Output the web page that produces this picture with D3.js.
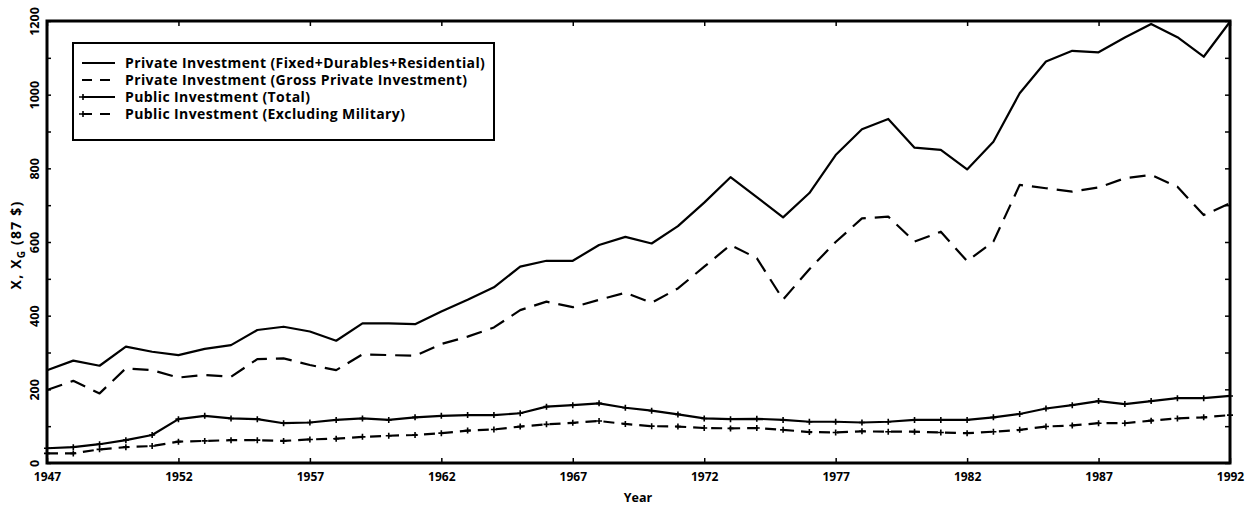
<!DOCTYPE html>
<html>
<head>
<meta charset="utf-8">
<script src="https://cdn.jsdelivr.net/npm/d3@7"></script>
<style>
  html, body { margin: 0; padding: 0; background: #fff; }
  svg text { font-family: "Open Sans", "DejaVu Sans", sans-serif; font-weight: 700; fill: #000; }
</style>
</head>
<body>
<svg id="chart" width="1250" height="509"></svg>
<script>
const years = d3.range(1947, 1993);
const privateFixed = [252,278,264,316,302,293,310,320,361,370,357,332,379,379,377,411,443,477,533,549,549,592,614,596,643,707,776,722,667,733,836,906,934,856,850,797,872,1004,1090,1119,1115,1155,1192,1156,1103,1198];
const privateGross = [198,223,189,257,252,232,239,234,282,284,266,252,295,293,291,323,343,368,415,438,423,443,462,435,474,533,592,556,444,526,600,664,669,601,628,548,601,755,746,737,748,773,782,750,673,705];
const publicTotal = [40,43,51,62,76,119,128,121,119,108,110,117,121,117,124,128,130,130,135,153,157,162,150,142,132,121,119,120,117,112,112,110,112,117,117,117,124,133,148,157,168,160,168,176,176,182];
const publicExMil = [26,26,37,43,46,58,60,62,62,60,64,66,71,74,76,81,88,91,99,105,109,114,106,100,99,95,94,95,90,84,83,86,85,85,83,81,85,90,99,102,108,108,115,121,124,130];
const seriesNames = [
  "Private Investment (Fixed+Durables+Residential)",
  "Private Investment (Gross Private Investment)",
  "Public Investment (Total)",
  "Public Investment (Excluding Military)"
];
const xTickValues = [1947,1952,1957,1962,1967,1972,1977,1982,1987,1992];
const yTickValues = d3.range(0, 1201, 100);
const yLabelValues = [0,200,400,600,800,1000,1200];

const svg = d3.select("#chart");
const L = 47, R = 1230, T = 21, B = 463;
const x = d3.scaleLinear().domain([1947, 1992]).range([L, R]);
const y = d3.scaleLinear().domain([0, 1200]).range([B, T]);

const styles = [
  {dash: null, marker: false},
  {dash: "16,9", marker: false},
  {dash: null, marker: true},
  {dash: "11,7", marker: true}
];
const seriesData = [privateFixed, privateGross, publicTotal, publicExMil];

const line = d3.line().x((d, i) => x(years[i])).y(d => y(d));

seriesData.forEach((vals, k) => {
  svg.append("path")
    .attr("d", line(vals))
    .attr("fill", "none")
    .attr("stroke", "#000")
    .attr("stroke-width", 2.2)
    .attr("stroke-linejoin", "round")
    .attr("stroke-dasharray", styles[k].dash);
  if (styles[k].marker) {
    svg.append("g").selectAll("path")
      .data(vals)
      .join("path")
      .attr("d", (d, i) => {
        const cx = x(years[i]), cy = y(d);
        return `M${cx-3},${cy}H${cx+3}M${cx},${cy-3}V${cy+3}`;
      })
      .attr("stroke", "#000")
      .attr("stroke-width", 1.6);
  }
});

// axes
const axB = d3.axisBottom(x).tickValues(xTickValues).tickSizeInner(-5).tickSizeOuter(0).tickPadding(9).tickFormat(d3.format("d"));
const gB = svg.append("g").attr("transform", `translate(0,${B})`).call(axB);
gB.select(".domain").remove();
gB.selectAll("line").attr("stroke-width", 1.5);
gB.selectAll("text").style("font-size", "12px").attr("fill", "#000");

const axT = d3.axisTop(x).tickValues(xTickValues).tickSizeInner(-5).tickSizeOuter(0).tickFormat("");
const gT = svg.append("g").attr("transform", `translate(0,${T})`).call(axT);
gT.select(".domain").remove();
gT.selectAll("line").attr("stroke-width", 1.5);

const axL = d3.axisLeft(y).tickValues(yTickValues).tickSizeInner(-4).tickSizeOuter(0)
  .tickFormat(d => yLabelValues.includes(d) ? String(d) : "");
const gL = svg.append("g").attr("transform", `translate(${L},0)`).call(axL);
gL.select(".domain").remove();
gL.selectAll("line").attr("stroke-width", 1.5);
gL.selectAll("text")
  .attr("x", null).attr("dy", null)
  .attr("transform", "translate(-8,0) rotate(-90)")
  .style("text-anchor", "middle")
  .style("font-size", "12.5px");

const axR = d3.axisRight(y).tickValues(yTickValues).tickSizeInner(-5).tickSizeOuter(0).tickFormat("");
const gR = svg.append("g").attr("transform", `translate(${R},0)`).call(axR);
gR.select(".domain").remove();
gR.selectAll("line").attr("stroke-width", 1.5);

// frame
svg.append("rect").attr("x", L).attr("y", T).attr("width", R - L).attr("height", B - T)
  .attr("fill", "none").attr("stroke", "#000").attr("stroke-width", 3);

// axis titles
svg.append("text").attr("x", 638).attr("y", 502).attr("text-anchor", "middle")
  .style("font-size", "12.5px").text("Year");

const yl = svg.append("text").attr("transform", "translate(21,245) rotate(-90)")
  .attr("text-anchor", "middle").style("font-size", "14px").style("letter-spacing", "1.2px");
yl.append("tspan").text("X,   X");
yl.append("tspan").attr("dy", 4).style("font-size", "10px").text("G");
yl.append("tspan").attr("dy", -4).text("  (87 $)");

// legend
const lg = svg.append("g");
lg.append("rect").attr("x", 73).attr("y", 43).attr("width", 421).attr("height", 97)
  .attr("fill", "#fff").attr("stroke", "#000").attr("stroke-width", 2);
const rowY = [63, 80, 97, 114];
seriesNames.forEach((name, k) => {
  const yy = rowY[k];
  lg.append("line").attr("x1", 82).attr("x2", 115).attr("y1", yy).attr("y2", yy)
    .attr("stroke", "#000").attr("stroke-width", 1.8)
    .attr("stroke-dasharray", styles[k].dash ? "10,8" : null);
  if (styles[k].marker) {
    lg.append("path").attr("d", `M${79},${yy}H${87}M${83},${yy-3}V${yy+3}`)
      .attr("stroke", "#000").attr("stroke-width", 1.6);
  }
  lg.append("text").attr("x", 125).attr("y", yy + 5).style("font-size", "14px")
    .style("letter-spacing", "0.4px").text(name);
});
</script>
</body>
</html>
